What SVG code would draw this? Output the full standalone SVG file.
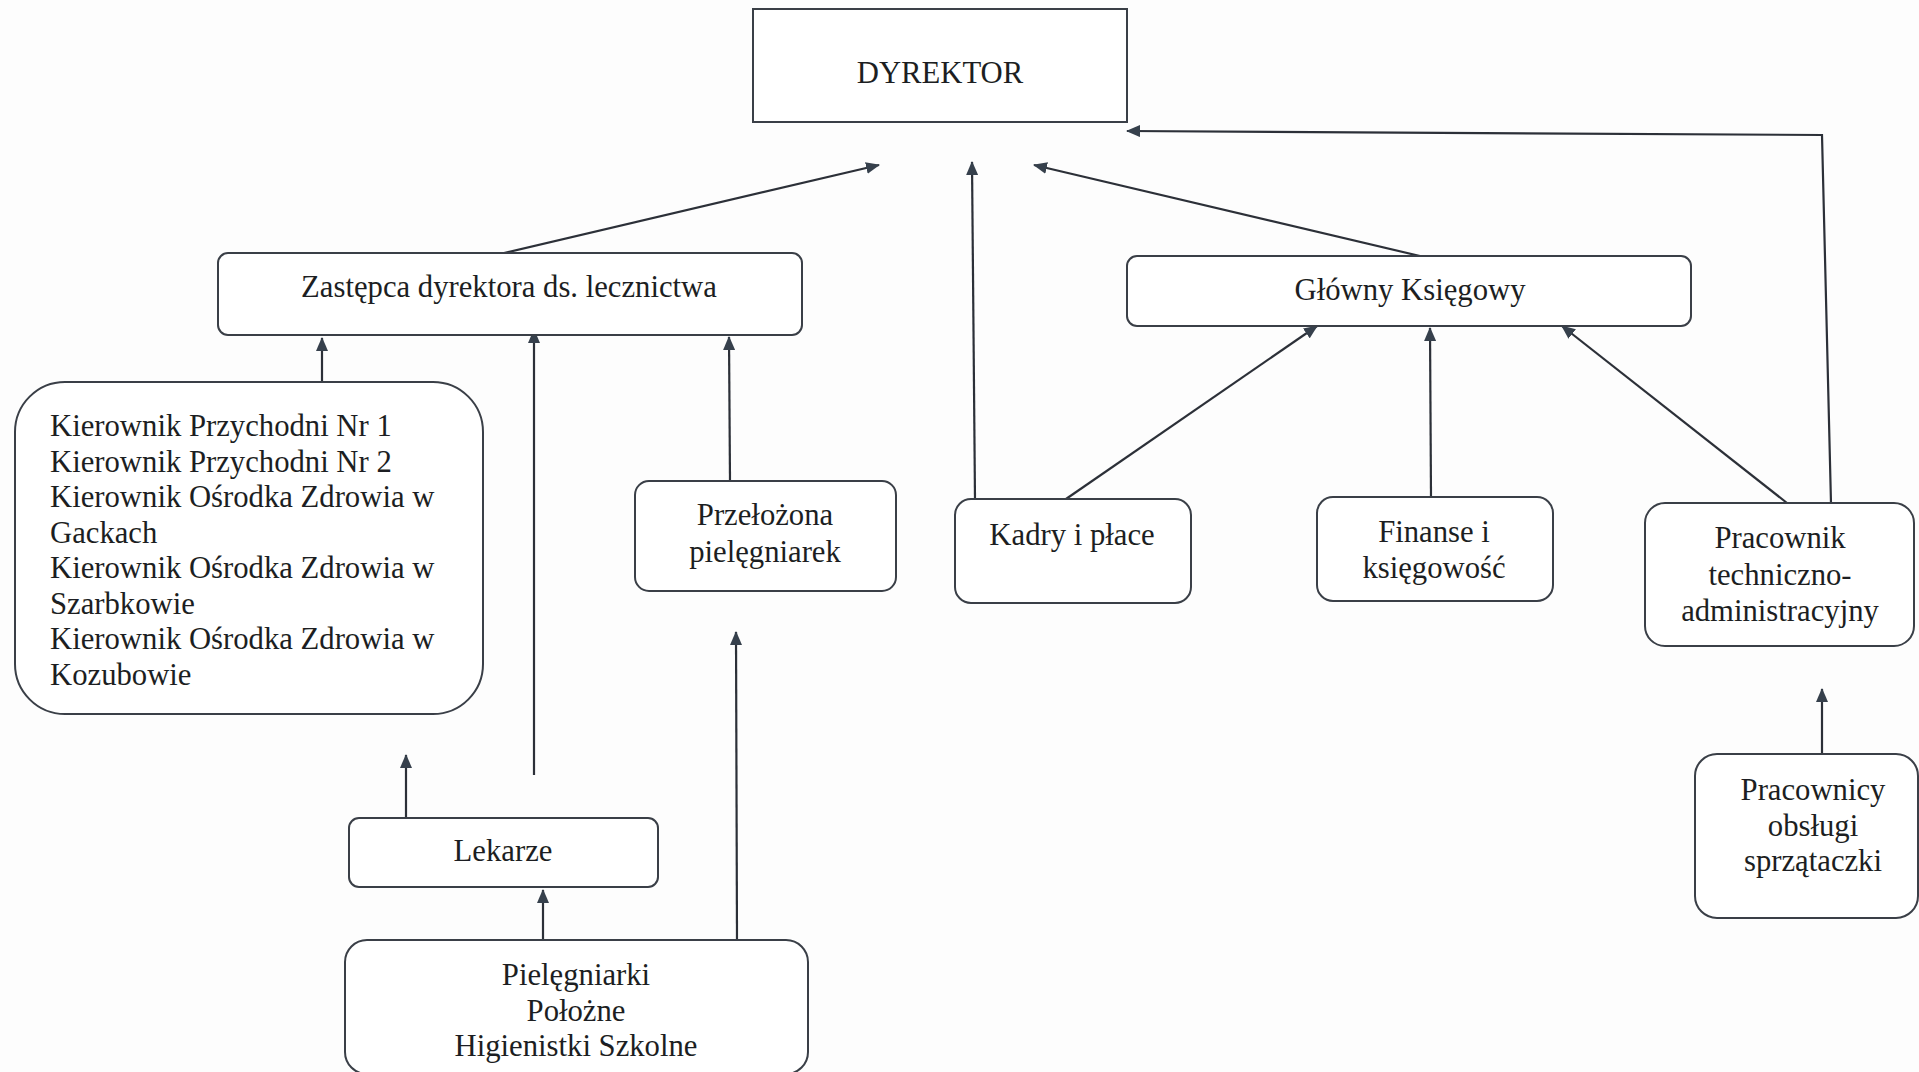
<svg xmlns="http://www.w3.org/2000/svg" width="1919" height="1072" viewBox="0 0 1919 1072">
<defs>
<marker id="ah" markerUnits="userSpaceOnUse" markerWidth="14" markerHeight="12" refX="13" refY="6" orient="auto">
<path d="M0,0 L14,6 L0,12 Z" fill="#36404c"/>
</marker>
<style>
.n{fill:#ffffff;stroke:#3a3f47;stroke-width:2}
.t{font-family:"Liberation Serif","Times New Roman",serif;font-size:30.7px;fill:#1c1e22}
.c{text-anchor:middle}
.e{fill:none;stroke:#2c3038;stroke-width:2.2;marker-end:url(#ah)}
</style>
</defs>
<rect width="1919" height="1072" fill="#fdfdfd"/>
<g id="connectors">
<path class="e" d="M504,253 L879,165"/>
<path class="e" d="M975,499 L972,162"/>
<path class="e" d="M1420,256 L1034,165"/>
<path class="e" d="M1831,503 L1822,135 L1127,131"/>
<path class="e" d="M322,382 L322,338"/>
<path class="e" d="M534,775 L534,330"/>
<path class="e" d="M730,481 L729,337"/>
<path class="e" d="M737,940 L736,632"/>
<path class="e" d="M406,818 L406,755"/>
<path class="e" d="M543,940 L543,890"/>
<path class="e" d="M1066,499 L1317,326"/>
<path class="e" d="M1431,497 L1430,328"/>
<path class="e" d="M1787,503 L1562,326"/>
<path class="e" d="M1822,754 L1822,689"/>
</g>
<g id="dyrektor">
<rect class="n" x="753" y="9" width="374" height="113"/>
<text class="t c" x="940" y="83">DYREKTOR</text>
</g>
<g id="zastepca">
<rect class="n" x="218" y="253" width="584" height="82" rx="10"/>
<text class="t c" x="509" y="297">Zastępca dyrektora ds. lecznictwa</text>
</g>
<g id="glowny">
<rect class="n" x="1127" y="256" width="564" height="70" rx="10"/>
<text class="t c" x="1410" y="300">Główny Księgowy</text>
</g>
<g id="kierownicy">
<rect class="n" x="15" y="382" width="468" height="332" rx="50"/>
<text class="t">
<tspan x="50" y="436">Kierownik Przychodni Nr 1</tspan>
<tspan x="50" y="471.5">Kierownik Przychodni Nr 2</tspan>
<tspan x="50" y="507">Kierownik Ośrodka Zdrowia w</tspan>
<tspan x="50" y="542.5">Gackach</tspan>
<tspan x="50" y="578">Kierownik Ośrodka Zdrowia w</tspan>
<tspan x="50" y="613.5">Szarbkowie</tspan>
<tspan x="50" y="649">Kierownik Ośrodka Zdrowia w</tspan>
<tspan x="50" y="684.5">Kozubowie</tspan>
</text>
</g>
<g id="przelozona">
<rect class="n" x="635" y="481" width="261" height="110" rx="14"/>
<text class="t c"><tspan x="765" y="525">Przełożona</tspan><tspan x="765" y="562">pielęgniarek</tspan></text>
</g>
<g id="kadry">
<rect class="n" x="955" y="499" width="236" height="104" rx="16"/>
<text class="t c" x="1072" y="545">Kadry i płace</text>
</g>
<g id="finanse">
<rect class="n" x="1317" y="497" width="236" height="104" rx="16"/>
<text class="t c"><tspan x="1434" y="542">Finanse i</tspan><tspan x="1434" y="578">księgowość</tspan></text>
</g>
<g id="pracownik">
<rect class="n" x="1645" y="503" width="269" height="143" rx="20"/>
<text class="t c"><tspan x="1780" y="548">Pracownik</tspan><tspan x="1780" y="585">techniczno-</tspan><tspan x="1780" y="621">administracyjny</tspan></text>
</g>
<g id="obsluga">
<rect class="n" x="1695" y="754" width="223" height="164" rx="22"/>
<text class="t c"><tspan x="1813" y="800">Pracownicy</tspan><tspan x="1813" y="836">obsługi</tspan><tspan x="1813" y="871">sprzątaczki</tspan></text>
</g>
<g id="lekarze">
<rect class="n" x="349" y="818" width="309" height="69" rx="10"/>
<text class="t c" x="503" y="861">Lekarze</text>
</g>
<g id="pielegniarki">
<rect class="n" x="345" y="940" width="463" height="134" rx="22"/>
<text class="t c"><tspan x="576" y="985">Pielęgniarki</tspan><tspan x="576" y="1021">Położne</tspan><tspan x="576" y="1056">Higienistki Szkolne</tspan></text>
</g>
</svg>
